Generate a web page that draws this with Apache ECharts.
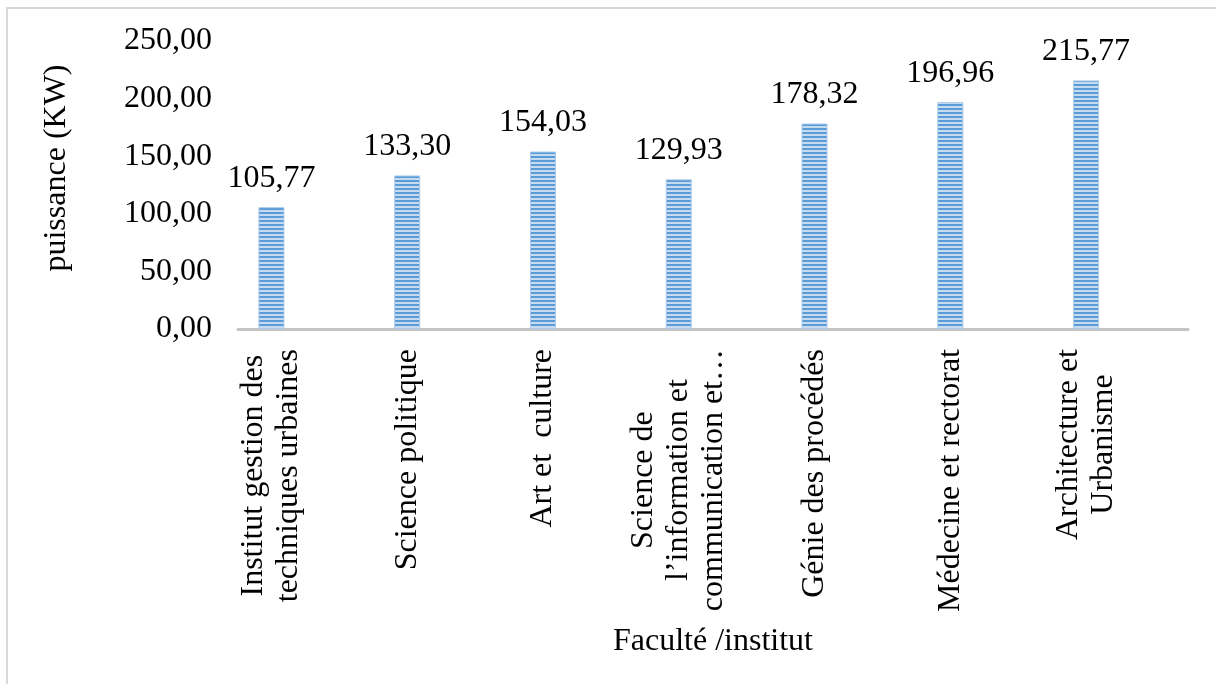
<!DOCTYPE html>
<html>
<head>
<meta charset="utf-8">
<script src="https://cdn.jsdelivr.net/npm/echarts@6/dist/echarts.min.js"></script>
<style>
  html, body { margin: 0; padding: 0; background: #ffffff; }
  #chart { width: 1216px; height: 684px; }
</style>
</head>
<body>
<div id="chart"></div>
<script>
// Faculties / institutes (category axis)
const categories = [
  'Institut gestion des\ntechniques urbaines',
  'Science politique',
  'Art et  culture',
  'Science de\nl’information et\ncommunication et…',
  'Génie des procédés',
  'Médecine et rectorat',
  'Architecture et\nUrbanisme'
];

// Power per faculty, kW
const puissance = [105.77, 133.30, 154.03, 129.93, 178.32, 196.96, 215.77];

// Value-axis ticks
const yMin = 0;
const yMax = 250;
const yStep = 50;

const yAxisTitle = 'puissance (KW)';
const xAxisTitle = 'Faculté /institut';

const FONT = "'Liberation Serif', 'Times New Roman', serif";
const FS = 32;

// decimal comma, two places
const fmt = v => Number(v).toFixed(2).replace('.', ',');

// horizontal-stripe fill for the bars
function stripeFill() {
  const c = document.createElement('canvas');
  c.width = 4; c.height = 4;
  const g = c.getContext('2d');
  g.fillStyle = '#c4dbf1';
  g.fillRect(0, 0, 4, 4);
  g.fillStyle = '#5b9bd5';
  g.fillRect(0, 0, 4, 2);
  return { image: c, repeat: 'repeat' };
}

const chart = echarts.init(document.getElementById('chart'), null, { renderer: 'canvas' });

const option = {
  backgroundColor: '#ffffff',
  animation: false,
  grid: [
    // bars + category labels
    { left: 203.5, right: 62, top: 41, bottom: 355, containLabel: false },
    // value labels + baseline
    { left: 238, right: 28, top: 41, bottom: 355, containLabel: false }
  ],
  xAxis: [
    {
      type: 'category',
      gridIndex: 0,
      data: categories,
      axisLine: { show: false },
      axisTick: { show: false },
      axisLabel: {
        interval: 0,
        rotate: 90,
        margin: 20,
        formatter: v => v.split('\n').map(l => '{c|' + l + '}').join('\n'),
        rich: {
          c: { align: 'center', fontFamily: FONT, fontSize: FS, lineHeight: 35, color: '#000000' }
        }
      }
    },
    {
      type: 'category',
      gridIndex: 1,
      data: categories,
      axisLine: { show: true, lineStyle: { color: '#c4c4c4', width: 3 } },
      axisTick: { show: false },
      axisLabel: { show: false },
      name: xAxisTitle,
      nameLocation: 'middle',
      nameGap: 297,
      nameTextStyle: { fontFamily: FONT, fontSize: FS, color: '#000000' }
    }
  ],
  yAxis: [
    {
      type: 'value',
      gridIndex: 0,
      min: yMin, max: yMax, interval: yStep,
      show: false,
      splitLine: { show: false }
    },
    {
      type: 'value',
      gridIndex: 1,
      min: yMin, max: yMax, interval: yStep,
      axisLine: { show: false },
      axisTick: { show: false },
      splitLine: { show: false },
      axisLabel: {
        margin: 26,
        formatter: fmt,
        fontFamily: FONT, fontSize: FS, color: '#000000'
      }
    }
  ],
  series: [
    {
      type: 'bar',
      xAxisIndex: 0,
      yAxisIndex: 0,
      data: puissance,
      barWidth: 26,
      itemStyle: {
        color: stripeFill(),
        borderColor: '#a9c9ec',
        borderWidth: 1
      },
      label: {
        show: true,
        position: 'top',
        distance: 13,
        formatter: p => fmt(p.value),
        fontFamily: FONT, fontSize: FS, color: '#000000'
      }
    }
  ],
  graphic: [
    {
      type: 'rect',
      silent: true,
      shape: { x: 7, y: 8, width: 1260, height: 720 },
      style: { fill: 'none', stroke: '#d9d9d9', lineWidth: 2 }
    },
    {
      type: 'text',
      silent: true,
      x: 57, y: 168,
      rotation: Math.PI / 2,
      style: {
        text: yAxisTitle,
        font: FS + 'px ' + FONT,
        fill: '#000000',
        textAlign: 'center',
        textVerticalAlign: 'middle'
      }
    }
  ]
};

chart.setOption(option);
</script>
</body>
</html>
